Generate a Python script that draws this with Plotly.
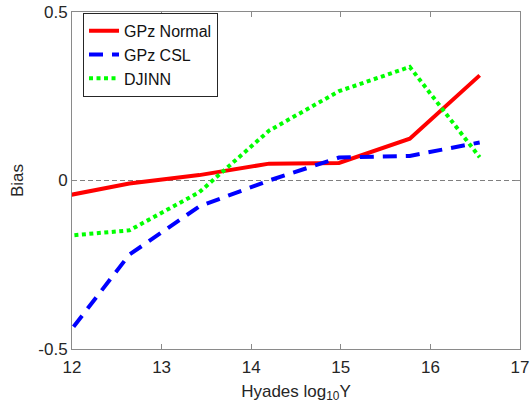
import plotly.graph_objects as go

# ---- data ----
x_vals = [11.86, 12.64, 13.42, 14.20, 14.98, 15.77, 16.55]
gpz_normal = [-0.049, -0.009, 0.016, 0.050, 0.052, 0.124, 0.312]
gpz_csl = [-0.488, -0.220, -0.077, 0.000, 0.068, 0.073, 0.113]
djinn = [-0.166, -0.148, -0.035, 0.148, 0.265, 0.337, 0.069]

x_ticks = [12, 13, 14, 15, 16, 17]
x_tick_labels = ["12", "13", "14", "15", "16", "17"]
y_ticks = [-0.5, 0, 0.5]
y_tick_labels = ["-0.5", "0", "0.5"]
x_range = [12, 17]
y_range = [-0.5, 0.5]
zero_level = [0, 0]

FONT = "Liberation Sans, Arial, Helvetica, sans-serif"
AXIS_GRAY = "#8a8a8a"
TEXT = "#262626"

fig = go.Figure()

# zero reference line
fig.add_trace(go.Scatter(
    x=x_range, y=zero_level, mode="lines",
    line=dict(color="#7f7f7f", width=1, dash="5px,3px"),
    showlegend=False, hoverinfo="skip"))

fig.add_trace(go.Scatter(
    x=x_vals, y=gpz_normal, mode="lines", name="GPz Normal",
    line=dict(color="#ff0000", width=4)))
fig.add_trace(go.Scatter(
    x=x_vals, y=gpz_csl, mode="lines", name="GPz CSL",
    line=dict(color="#0000ff", width=4, dash="14px,9px")))
fig.add_trace(go.Scatter(
    x=x_vals, y=djinn, mode="lines", name="DJINN",
    line=dict(color="#00ff00", width=4, dash="4px,3.5px")))

fig.update_layout(
    width=530, height=413,
    margin=dict(l=72, r=10, t=12, b=64, autoexpand=False),
    paper_bgcolor="white", plot_bgcolor="white",
    font=dict(family=FONT, color=TEXT, size=17),
    showlegend=True,
    legend=dict(
        x=0.0246, y=0.873, xanchor="left", yanchor="middle",
        bgcolor="white", bordercolor="#262626", borderwidth=1,
        font=dict(family=FONT, size=16, color="#111111"),
        itemwidth=30, tracegroupgap=0,
    ),
)

fig.update_xaxes(
    range=x_range, tickvals=x_ticks, ticktext=x_tick_labels,
    showgrid=False, zeroline=False, automargin=False,
    showline=True, linecolor=AXIS_GRAY, linewidth=1, mirror="ticks",
    ticks="inside", ticklen=5, tickcolor=AXIS_GRAY, tickwidth=1,
    ticklabelstandoff=3,
    tickfont=dict(family=FONT, size=17, color=TEXT),
    title=dict(text="Hyades log<sub>10</sub>Y", font=dict(family=FONT, size=17, color=TEXT), standoff=8),
)
fig.update_yaxes(
    range=y_range, tickvals=y_ticks, ticktext=y_tick_labels,
    showgrid=False, zeroline=False, automargin=False,
    showline=True, linecolor=AXIS_GRAY, linewidth=1, mirror="ticks",
    ticks="inside", ticklen=5, tickcolor=AXIS_GRAY, tickwidth=1,
    tickfont=dict(family=FONT, size=17, color=TEXT),
    title=dict(text="Bias", font=dict(family=FONT, size=17, color=TEXT), standoff=10),
)

fig.write_html("out.html", config={"displayModeBar": False},
               post_script="document.body.style.margin='0';")
